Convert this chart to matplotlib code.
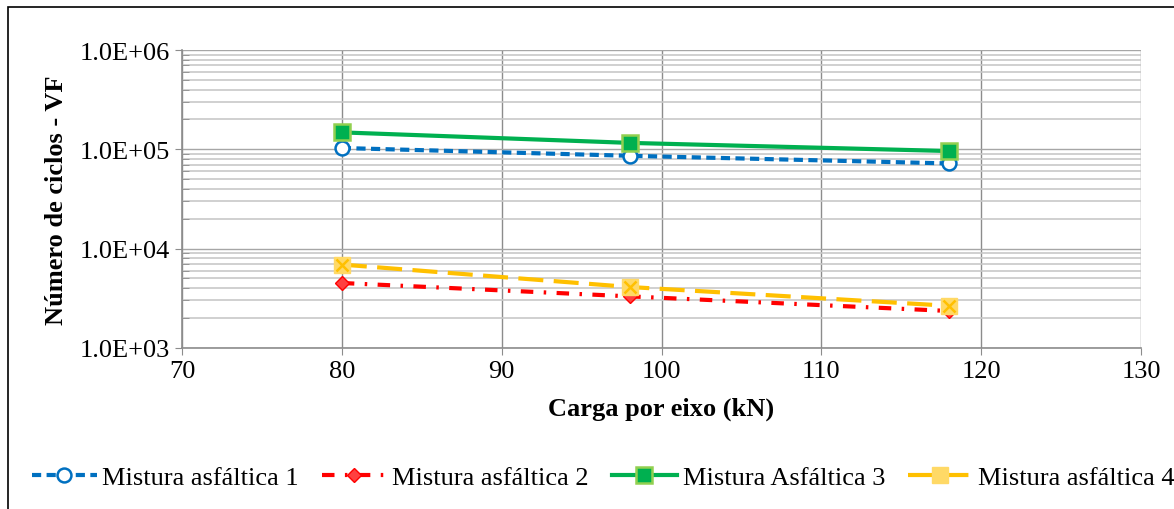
import numpy as np
import matplotlib.pyplot as plt
from matplotlib.ticker import LogLocator, FixedLocator, NullFormatter
from matplotlib.patches import Rectangle

plt.rcParams['font.family'] = ['Liberation Serif', 'DejaVu Serif']

# Data
carga = [80, 98, 118]
mistura1 = [1.03e5, 8.6e4, 7.2e4]
mistura2 = [4.5e3, 3.3e3, 2.35e3]
mistura3 = [1.48e5, 1.16e5, 9.6e4]
mistura4 = [6.9e3, 4.1e3, 2.65e3]

fig = plt.figure(figsize=(11.74, 5.10), dpi=100)
ax = fig.add_axes([0.155, 0.316, 0.817, 0.584])

# outer frame (right and bottom edges fall outside the picture)
fig.patches.append(Rectangle((8/1174, -0.1), 1.1, 1.1 - 8/510, transform=fig.transFigure,
                             fill=False, edgecolor='black', lw=1.2))

l1, = ax.plot(carga, mistura1, color='#0070C0', lw=3, ls=(0, (2.2, 1.3)),
              marker='o', ms=10, mfc='white', mec='#0070C0', mew=1.8,
              label='Mistura asfáltica 1', zorder=4)
l2, = ax.plot(carga, mistura2, color='#FF0000', lw=3, ls=(0, (3, 2.5, 0.6, 2.5)),
              marker='D', ms=7, mfc='#FF4040', mec='#FF0000', mew=1,
              label='Mistura asfáltica 2', zorder=4)
l3, = ax.plot(carga, mistura3, color='#00B050', lw=3, ls='-',
              marker='s', ms=11, mfc='#00B050', mec='#92D050', mew=1.8,
              label='Mistura Asfáltica 3', zorder=4)
l4, = ax.plot(carga, mistura4, color='#FFC000', lw=3, ls=(0, (6, 2.5)),
              marker='s', ms=11, mfc='#FFD966', mec='#FFD966', mew=1,
              label='Mistura asfáltica 4', zorder=4)
ax.plot(carga, mistura4, ls='none', marker='x', ms=9, mec='#FFC000', mew=1.8, zorder=5)

ax.set_yscale('log')
ax.set_xlim(70, 130)
ax.set_ylim(1e3, 1e6)
ax.xaxis.set_major_locator(FixedLocator(np.arange(70, 131, 10)))
ax.yaxis.set_major_locator(FixedLocator([1e3, 1e4, 1e5, 1e6]))
ax.yaxis.set_minor_locator(LogLocator(base=10, subs=np.arange(2, 10)))
ax.yaxis.set_minor_formatter(NullFormatter())
ax.set_yticklabels(['1.0E+03', '1.0E+04', '1.0E+05', '1.0E+06'])

ax.grid(True, which='major', axis='x', color='#8c8c8c', lw=1)
ax.grid(True, which='major', axis='y', color='#a6a6a6', lw=1)
ax.grid(True, which='minor', axis='y', color='#c8c8c8', lw=1.2)
ax.set_axisbelow(True)

for s in ['top', 'right']:
    ax.spines[s].set_visible(False)
for s in ['left', 'bottom']:
    ax.spines[s].set_color('#8c8c8c')
    ax.spines[s].set_linewidth(1.2)

ax.tick_params(axis='both', which='major', labelsize=19, direction='out',
               length=5, color='#8c8c8c', pad=4)
ax.tick_params(axis='y', which='minor', direction='in', length=5, color='#8c8c8c')

ax.set_xlabel('Carga por eixo (kN)', fontsize=19, fontweight='bold', labelpad=10)
ax.set_ylabel('Número de ciclos - VF', fontsize=19, fontweight='bold', labelpad=8)

fig.legend(handles=[l1, l2, l3, l4], loc='center left', bbox_to_anchor=(32/1174, 0.062),
           ncol=4, frameon=False, fontsize=19, handlelength=2.45,
           columnspacing=0.87, handletextpad=0.22, borderaxespad=0, borderpad=0)

fig.savefig('out.png', dpi=100)
